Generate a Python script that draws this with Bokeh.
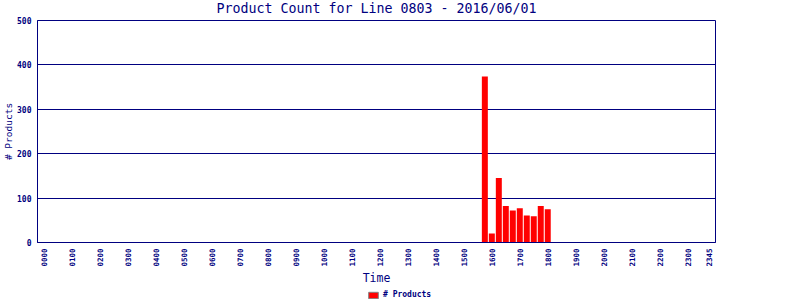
from bokeh.plotting import figure
from bokeh.layouts import column
from bokeh.models import ColumnDataSource, FixedTicker, Legend, LegendItem, Range1d, Label
from bokeh.embed import file_html
from bokeh.resources import INLINE

# Data (15-minute slots)
times = ["1545", "1600", "1615", "1630", "1645", "1700", "1715", "1730", "1745", "1800"]
counts = [374, 20, 145, 82, 72, 77, 61, 59, 82, 75]
tick_labels = ["0000", "0100", "0200", "0300", "0400", "0500", "0600", "0700",
               "0800", "0900", "1000", "1100", "1200", "1300", "1400", "1500",
               "1600", "1700", "1800", "1900", "2000", "2100", "2200", "2300", "2345"]
y_ticks = [0, 100, 200, 300, 400, 500]
title_text = "Product Count for Line 0803 - 2016/06/01"


def to_hours(s):
    return int(s[:2]) + int(s[2:]) / 60.0


NAVY = "#000080"
FONT = "DejaVu Sans Mono"
FRAME_LEFT = 37


def strip(height):
    f = figure(width=800, height=height, output_backend="svg", toolbar_location=None,
               x_range=Range1d(0, 800), y_range=Range1d(0, height),
               x_axis_location=None, y_axis_location=None,
               min_border_left=0, min_border_right=0, min_border_top=0, min_border_bottom=0)
    f.grid.visible = False
    f.outline_line_color = None
    f.background_fill_color = "white"
    f.border_fill_color = "white"
    return f


# Title strip
t = strip(15)
t.add_layout(Label(x=376 - FRAME_LEFT, y=7, x_units="screen", y_units="screen", text=title_text,
                   text_align="center", text_baseline="middle",
                   text_font=FONT, text_font_size="13.3px", text_color=NAVY))

src = ColumnDataSource(dict(x=[to_hours(tm) for tm in times], top=counts))

p = figure(width=800, height=272, output_backend="svg", toolbar_location=None,
           x_range=Range1d(-0.25, 24.0), y_range=Range1d(0, 500),
           min_border_left=FRAME_LEFT, min_border_right=85, min_border_top=5, min_border_bottom=45)

p.vbar(x="x", top="top", width=0.214, bottom=0, source=src,
       fill_color="#FF0000", line_color=None)

p.outline_line_color = NAVY
p.outline_line_width = 1
p.outline_line_alpha = 1
p.background_fill_color = "white"
p.border_fill_color = "white"

p.xgrid.grid_line_color = None
p.ygrid.grid_line_color = NAVY
p.ygrid.grid_line_width = 1
p.ygrid.ticker = FixedTicker(ticks=y_ticks)

tick_pos = [to_hours(tl) for tl in tick_labels]
p.xaxis.ticker = FixedTicker(ticks=tick_pos)
p.xaxis.major_label_overrides = {to_hours(tl): tl for tl in tick_labels}
p.xaxis.major_label_orientation = 1.5708
p.yaxis.ticker = FixedTicker(ticks=y_ticks)

for ax in (p.xaxis[0], p.yaxis[0]):
    ax.axis_line_color = NAVY
    ax.axis_line_width = 1
    ax.major_tick_line_color = None
    ax.minor_tick_line_color = None
    ax.major_tick_out = 0
    ax.major_tick_in = 0
    ax.major_label_standoff = 6
    ax.major_label_text_font = FONT
    ax.major_label_text_font_style = "bold"
    ax.major_label_text_color = NAVY
    ax.axis_label_text_font = FONT
    ax.axis_label_text_font_style = "normal"
    ax.axis_label_text_color = NAVY

p.xaxis.major_label_text_font_size = "7.5px"
p.yaxis.major_label_text_font_size = "8px"
p.xaxis.axis_label = "Time"
p.xaxis.axis_label_text_font_size = "11.5px"
p.xaxis.axis_label_standoff = 1
p.yaxis.axis_label = "# Products"
p.yaxis.axis_label_text_font_size = "9.5px"
p.yaxis.axis_label_standoff = 0

# Legend strip below the chart
q = strip(13)
leg_r = q.rect(x=[-100], y=[-100], width=1, height=1,
               fill_color="#FF0000", line_color="#808080")
legend = Legend(items=[LegendItem(label="# Products", renderers=[leg_r])],
                location=(367 - FRAME_LEFT, 1), orientation="horizontal",
                glyph_width=12, glyph_height=8, label_height=8,
                label_standoff=4, padding=0, margin=0, spacing=0,
                border_line_color=None, background_fill_alpha=0,
                label_text_font=FONT, label_text_font_size="8px",
                label_text_font_style="bold", label_text_color=NAVY)
q.add_layout(legend, "center")

layout = column(t, p, q, spacing=0)
open("out.html", "w").write(file_html(layout, INLINE))
